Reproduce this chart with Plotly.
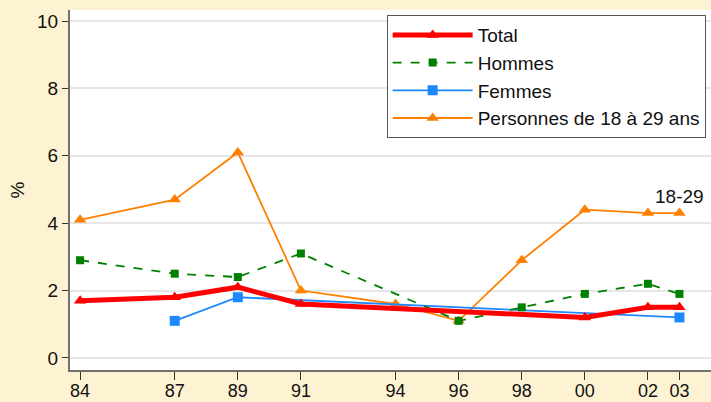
import plotly.graph_objects as go

years = [1984, 1987, 1989, 1991, 1994, 1996, 1998, 2000, 2002, 2003]
tick_text = ["84", "87", "89", "91", "94", "96", "98", "00", "02", "03"]

total_x = [1984, 1987, 1989, 1991, 2000, 2002, 2003]
total_y = [1.7, 1.8, 2.1, 1.6, 1.2, 1.5, 1.5]

hommes_x = [1984, 1987, 1989, 1991, 1996, 1998, 2000, 2002, 2003]
hommes_y = [2.9, 2.5, 2.4, 3.1, 1.1, 1.5, 1.9, 2.2, 1.9]

femmes_x = [1987, 1989, 2003]
femmes_y = [1.1, 1.8, 1.2]

jeunes_x = [1984, 1987, 1989, 1991, 1994, 1996, 1998, 2000, 2002, 2003]
jeunes_y = [4.1, 4.7, 6.1, 2.0, 1.6, 1.1, 2.9, 4.4, 4.3, 4.3]

BG = "#FDF3D3"

fig = go.Figure()
fig.add_trace(go.Scatter(x=jeunes_x, y=jeunes_y, name="Personnes de 18 à 29 ans",
                         mode="lines+markers", line=dict(color="#FF8000", width=1.8),
                         marker=dict(symbol="triangle-up", size=11, color="#FF8000")))
fig.add_trace(go.Scatter(x=femmes_x, y=femmes_y, name="Femmes",
                         mode="lines+markers", line=dict(color="#1E88FF", width=1.8),
                         marker=dict(symbol="square", size=10, color="#1E88FF")))
fig.add_trace(go.Scatter(x=hommes_x, y=hommes_y, name="Hommes",
                         mode="lines+markers", line=dict(color="#008000", width=1.8, dash="dash"),
                         marker=dict(symbol="square", size=8, color="#008000")))
fig.add_trace(go.Scatter(x=total_x, y=total_y, name="Total",
                         mode="lines+markers", line=dict(color="#FF0000", width=5),
                         marker=dict(symbol="triangle-up", size=11, color="#FF0000")))

fig.add_annotation(x=2003, y=4.3, text="18-29", showarrow=False, xanchor="center",
                   yanchor="bottom", xshift=0, yshift=4,
                   font=dict(size=19, color="#111111"))

# hide the gridline at the top tick (reference shows none there)
fig.add_shape(type="line", xref="paper", x0=0, x1=1, yref="y", y0=10, y1=10,
              line=dict(color="#FFFFFF", width=3), layer="below")

fig.update_layout(
    width=711, height=402,
    margin=dict(l=70, r=0, t=10, b=32, autoexpand=False),
    paper_bgcolor=BG,
    plot_bgcolor="#FFFFFF",
    font=dict(family="Liberation Sans, Arial, sans-serif", size=19, color="#111111"),
    showlegend=True,
    legend=dict(x=0.494, y=0.986, xanchor="left", yanchor="top",
                bgcolor="#FFFFFF", bordercolor="#555555", borderwidth=1,
                traceorder="reversed", font=dict(size=19), itemwidth=80,
                tracegroupgap=0),
    xaxis=dict(range=[1983.68, 2004.0], tickvals=years, ticktext=tick_text,
               showgrid=False, zeroline=False, showline=True, linecolor="#707070",
               linewidth=2, ticks="outside", ticklen=8, tickcolor="#333333",
               ticklabelstandoff=-5,
               tickfont=dict(size=18)),
    yaxis=dict(range=[-0.36, 10.33], tickvals=[0, 2, 4, 6, 8, 10],
               showgrid=True, gridcolor="#E6E6E6", gridwidth=1.5, zeroline=False,
               showline=True, linecolor="#707070", linewidth=2,
               ticks="outside", ticklen=6, tickcolor="#333333",
               tickfont=dict(size=19),
               title=dict(text="%", font=dict(size=19), standoff=7)),
)

fig.write_html("out.html", config={"displayModeBar": False},
               post_script="document.body.style.margin='0';document.body.style.background='" + BG + "';")
